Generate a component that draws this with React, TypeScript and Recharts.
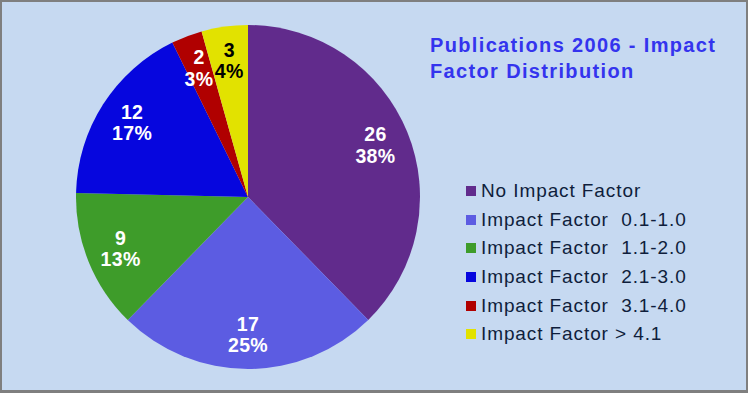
import { PieChart, Pie, Cell, Legend } from 'recharts'

const categories = [
  'No Impact Factor',
  'Impact Factor  0.1-1.0',
  'Impact Factor  1.1-2.0',
  'Impact Factor  2.1-3.0',
  'Impact Factor  3.1-4.0',
  'Impact Factor > 4.1',
]
const counts = [26, 17, 9, 12, 2, 3]
const percents = ['38%', '25%', '13%', '17%', '3%', '4%']
const COLORS = ['#612B8C', '#5C5CE2', '#3E9C2A', '#0606DE', '#B00000', '#E2E200']
const LABEL_COLORS = ['#fff', '#fff', '#fff', '#fff', '#fff', '#000']

const data = categories.map((name, i) => ({ name, value: counts[i], pct: percents[i] }))

const FONT = "Arial, 'Liberation Sans', sans-serif"
const RAD = Math.PI / 180

function renderLabel(props: any) {
  const { cx, cy, midAngle, outerRadius, index } = props
  const r = outerRadius * 0.8
  const x = cx + r * Math.cos(-midAngle * RAD)
  const y = cy + r * Math.sin(-midAngle * RAD)
  return (
    <text
      x={x}
      y={y}
      textAnchor="middle"
      fill={LABEL_COLORS[index]}
      fontFamily={FONT}
      fontWeight="bold"
      fontSize={19.5}
      letterSpacing={0.3}
    >
      <tspan x={x} dy={-4}>{data[index].value}</tspan>
      <tspan x={x} dy={21.5}>{data[index].pct}</tspan>
    </text>
  )
}

function LegendBox() {
  return (
    <div style={{ fontFamily: FONT, fontSize: 19, letterSpacing: 0.9, color: '#0F1E3C' }}>
      {categories.map((c, i) => (
        <div key={i} style={{ display: 'flex', alignItems: 'center', height: 28.7, whiteSpace: 'pre' }}>
          <div style={{ width: 10, height: 10, background: COLORS[i], marginRight: 5 }} />
          <span>{c}</span>
        </div>
      ))}
    </div>
  )
}

export default function App() {
  return (
    <div
      style={{
        position: 'absolute', top: 0, left: 0, width: 748, height: 393,
        boxSizing: 'border-box', background: '#C6D9F1',
        borderStyle: 'solid', borderColor: '#7F7F7F', borderWidth: '2px 2px 3px 2px',
      }}
    >
      <div style={{ position: 'absolute', left: -2, top: -2 }}>
        <PieChart width={744} height={388} margin={{ top: 0, right: 0, bottom: 0, left: 0 }}>
          <Pie
            data={data}
            dataKey="value"
            nameKey="name"
            cx={248}
            cy={197}
            outerRadius={172}
            startAngle={90}
            endAngle={-270}
            stroke="none"
            label={renderLabel}
            labelLine={false}
            isAnimationActive={false}
          >
            {data.map((d, i) => (
              <Cell key={i} fill={COLORS[i]} />
            ))}
          </Pie>
          <Legend
            content={<LegendBox />}
            wrapperStyle={{ position: 'absolute', left: 466, top: 176.5, width: 270 }}
          />
        </PieChart>
      </div>
      <div
        style={{
          position: 'absolute', left: 428, top: 29.5,
          fontFamily: FONT, fontWeight: 'bold', whiteSpace: 'nowrap',
          fontSize: 20, lineHeight: '26.7px', letterSpacing: 1.35, color: '#3434EE',
        }}
      >
        Publications 2006 - Impact
        <br />
        Factor Distribution
      </div>
    </div>
  )
}
